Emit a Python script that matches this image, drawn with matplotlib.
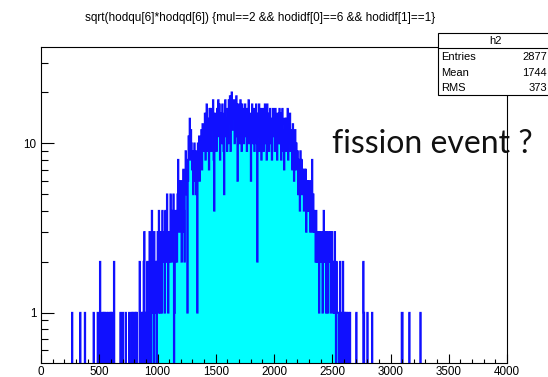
import numpy as np
import matplotlib
matplotlib.use('Agg')
import matplotlib.pyplot as plt
from matplotlib.patches import Rectangle
from matplotlib.ticker import LogLocator, NullFormatter, FixedLocator, MultipleLocator, FixedFormatter

# histogram h2, bins of 5 from 0 to 4000
bin_width = 5
x_max = 4000

# sparse low tail: bin start -> count
low_tail_x = [265, 335, 375, 450, 485, 505, 525, 535, 545, 560, 575, 590, 600, 610, 625,
              680, 700, 725, 755, 775, 785, 800, 810, 820, 845, 860, 870, 880, 885, 895]
low_tail_n = [1, 1, 1, 1, 1, 2, 1, 1, 1, 1, 1, 1, 1, 1, 2,
              1, 1, 1, 1, 1, 1, 1, 1, 1, 2, 1, 1, 2, 3, 1]

# dense part, 900 - 1395
rise_start = 900
rise = [0, 1, 2, 0, 1, 0, 3, 1, 0, 2,
        4, 1, 2, 0, 3, 1, 2, 1, 0, 2,
        3, 1, 4, 2, 1, 3, 2, 1, 4, 2,
        2, 3, 1, 4, 2, 3, 5, 2, 1, 3,
        3, 2, 5, 3, 2, 4, 3, 5, 0, 1,
        2, 4, 3, 2, 5, 8, 4, 3, 6, 4,
        5, 2, 6, 3, 7, 4, 2, 6, 9, 5,
        8, 1, 6, 11, 9, 14, 8, 12, 10, 7,
        9, 5, 7, 10, 6, 9, 5, 8, 1, 10,
        7, 11, 6, 10, 8, 12, 7, 13, 9, 11]

# 1400 - 1995
plateau_start = 1400
plateau = [10, 15, 8, 13, 17, 9, 12, 14, 7, 16,
           11, 16, 9, 14, 12, 18, 8, 4, 15, 10,
           13, 9, 16, 11, 18, 14, 17, 8, 12, 15,
           10, 17, 12, 9, 5, 15, 18, 11, 14, 9,
           16, 10, 18, 13, 19, 9, 15, 20, 12, 17,
           14, 18, 10, 16, 13, 19, 11, 6, 17, 12,
           15, 10, 18, 13, 9, 17, 12, 16, 10, 14,
           17, 11, 14, 9, 16, 12, 18, 10, 15, 13,
           6, 14, 17, 10, 13, 16, 9, 15, 12, 17,
           10, 2, 15, 11, 17, 9, 13, 16, 8, 14,
           12, 16, 9, 13, 17, 10, 14, 8, 17, 11,
           15, 9, 13, 16, 10, 14, 8, 12, 16, 11]

# 2000 - 2595
fall_start = 2000
fall = [13, 9, 16, 11, 14, 8, 15, 12, 10, 16,
        10, 15, 8, 13, 16, 9, 12, 7, 14, 11,
        14, 9, 12, 16, 8, 13, 10, 15, 9, 12,
        11, 7, 13, 9, 6, 10, 12, 7, 10, 8,
        9, 5, 8, 7, 4, 9, 6, 8, 5, 7,
        6, 4, 7, 5, 7, 3, 6, 5, 4, 6,
        4, 5, 3, 6, 4, 8, 3, 5, 4, 3,
        3, 2, 4, 2, 3, 2, 3, 1, 3, 2,
        2, 3, 2, 1, 3, 4, 2, 3, 2, 1,
        3, 2, 1, 3, 2, 2, 3, 1, 2, 3,
        2, 1, 2, 1, 3, 1, 0, 2, 1, 1,
        1, 0, 1, 2, 0, 1, 1, 0, 2, 1]

high_tail_x = [2600, 2610, 2620, 2635, 2650, 2705, 2765, 2770, 2800, 2840, 3095, 3100, 3160, 3255]
high_tail_n = [1, 1, 1, 1, 1, 1, 2, 1, 1, 1, 1, 1, 1, 1]

title = "sqrt(hodqu[6]*hodqd[6]) {mul==2 && hodidf[0]==6 && hodidf[1]==1}"
stats_name = "h2"
stats_rows = [("Entries", "2877"), ("Mean", "1744"), ("RMS", "373")]
note = "fission event ?"

edges = np.arange(0, x_max + bin_width, bin_width)
counts = np.zeros(len(edges) - 1)
for x, n in zip(low_tail_x + high_tail_x, low_tail_n + high_tail_n):
    counts[x // bin_width] = n
for start, seg in [(rise_start, rise), (plateau_start, plateau), (fall_start, fall)]:
    i = start // bin_width
    counts[i:i + len(seg)] = seg

floor = 0.3
draw = np.where(counts > 0, counts, floor)

W, H = 548, 377
fig = plt.figure(figsize=(W / 100, H / 100), dpi=100)
ax = fig.add_axes([41 / W, 1 - 362.7 / H, (507 - 41) / W, (362.7 - 47.3) / H])

ax.stairs(draw, edges, baseline=floor, fill=True, color='#00ffff', lw=0)
ax.stairs(draw, edges, baseline=None, color='#1010ff', lw=1.25)

ax.set_yscale('log')
ax.set_xlim(0, x_max)
ax.set_ylim(0.507, 36.9)

ax.xaxis.set_major_locator(MultipleLocator(500))
ax.xaxis.set_minor_locator(MultipleLocator(100))
ax.yaxis.set_major_locator(FixedLocator([1, 10]))
ax.yaxis.set_major_formatter(FixedFormatter(['1', '10']))
ax.yaxis.set_minor_locator(LogLocator(base=10, subs=np.arange(2, 10), numticks=10))
ax.yaxis.set_minor_formatter(NullFormatter())

ax.tick_params(axis='x', which='major', direction='in', length=6.5, width=0.8, pad=2.5, labelsize=8.4)
ax.tick_params(axis='x', which='minor', direction='in', length=3, width=0.8)
ax.tick_params(axis='y', which='major', direction='in', length=9.4, width=0.8, pad=3.3, labelsize=8.4)
ax.tick_params(axis='y', which='minor', direction='in', length=5, width=0.8)
for lab in ax.get_xticklabels() + ax.get_yticklabels():
    lab.set_family('Liberation Sans')
for s in ax.spines.values():
    s.set_linewidth(0.8)

fig.text(260 / W, 1 - 18 / H, title, ha='center', va='center', fontsize=8.5, family='Liberation Sans')

# stats box
bx0, by0, bx1, by1 = 438, 33, 560, 95
fig.patches.append(Rectangle((bx0 / W, 1 - by1 / H), (bx1 - bx0) / W, (by1 - by0) / H,
                             transform=fig.transFigure, facecolor='white', edgecolor='black', lw=0.8))
fig.lines.append(plt.Line2D([bx0 / W, bx1 / W], [1 - 47.5 / H, 1 - 47.5 / H],
                            transform=fig.transFigure, color='black', lw=0.8))
fig.text(495 / W, 1 - 40.5 / H, stats_name, ha='center', va='center', fontsize=8, family='Liberation Sans')
for k, (lab, val) in enumerate(stats_rows):
    yy = 1 - (57 + 15.7 * k) / H
    fig.text(441 / W, yy, lab, ha='left', va='center', fontsize=8, family='Liberation Sans')
    fig.text(547 / W, yy, val, ha='right', va='center', fontsize=8, family='Liberation Sans')

fig.text(332 / W, 1 - 153 / H, note, ha='left', va='baseline', fontsize=23, family='Lato', color='#111111')

fig.savefig('out.png', dpi=100)
